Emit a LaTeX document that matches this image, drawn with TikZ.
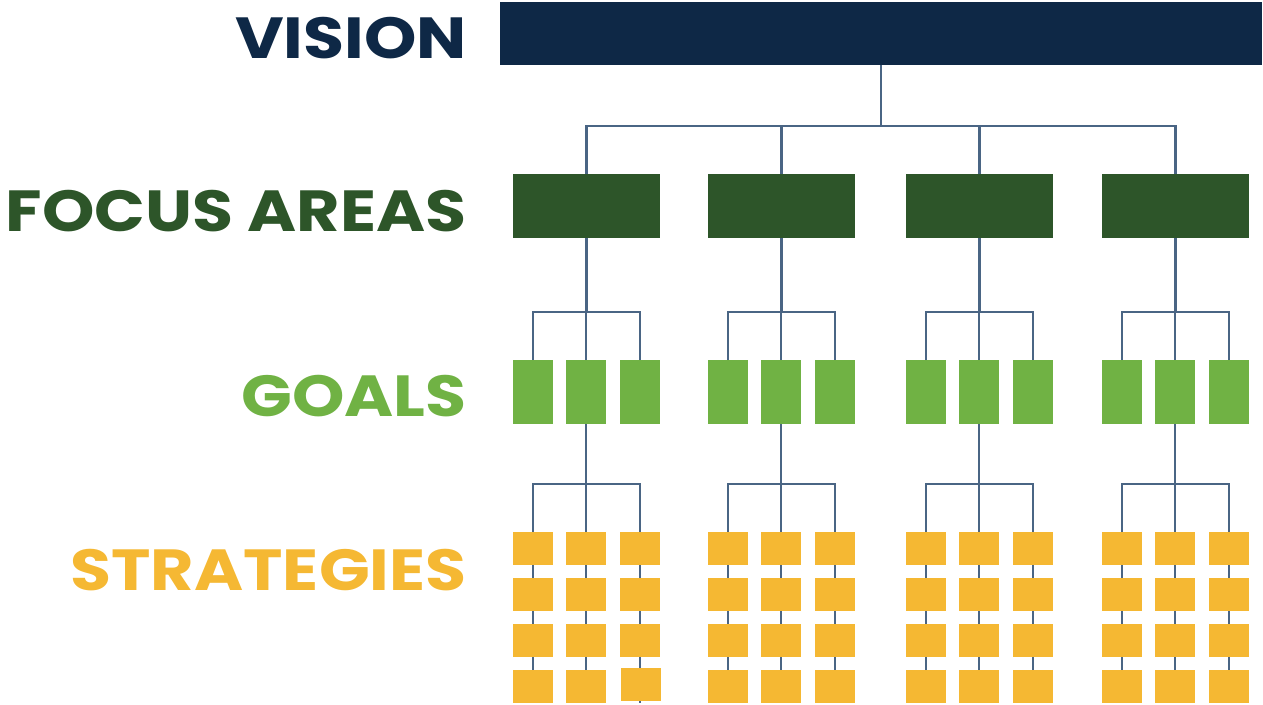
\documentclass[tikz,border=0pt]{standalone}
\usepackage{fontspec}
\newfontfamily\tierfont{Poppins}
\usetikzlibrary{backgrounds}
\definecolor{visionNavy}{RGB}{14,40,70}
\definecolor{focusGreen}{RGB}{45,85,41}
\definecolor{goalGreen}{RGB}{112,178,68}
\definecolor{strategyYellow}{RGB}{245,184,51}
\definecolor{linkSlate}{RGB}{74,101,132}

\tikzset{
  box/.style={draw=none, inner sep=0pt, outer sep=0pt},
  focusbox/.style={box, fill=focusGreen, minimum width=2.94cm, minimum height=1.28cm},
  goalbox/.style={box, fill=goalGreen, minimum width=0.8cm, minimum height=1.28cm},
  stratbox/.style={box, fill=strategyYellow, minimum width=0.8cm, minimum height=0.66cm},
  tier/.style={font=\tierfont\bfseries\fontsize{33}{33}\selectfont, anchor=base east, inner sep=0pt, xscale=1.15},
  link/.style={draw=linkSlate, line width=0.058cm}
}

\begin{document}
\begin{tikzpicture}[x=0.02cm, y=-0.02cm]
  \useasboundingbox (0,0) rectangle (1263,704);

  % tier labels
  \node[tier, text=visionNavy] (lvision) at (467,58) {VISION};
  \node[tier, text=focusGreen] (lfocus) at (467,231) {FOCUS AREAS};
  \node[tier, text=goalGreen] (lgoals) at (467,416) {GOALS};
  \node[tier, text=strategyYellow] (lstrat) at (467,590) {STRATEGIES};

  % boxes
  \node[box, fill=visionNavy, minimum width=15.24cm, minimum height=1.26cm] (vision) at (881,33.5) {};
  \foreach \i/\x in {1/513, 2/708, 3/906, 4/1102} {
    \node[focusbox] (f\i) at (\x+73.5,206) {};
    \foreach \j/\dx in {1/20, 2/73, 3/127} {
      \node[goalbox] (g\i\j) at (\x+\dx,392) {};
      \foreach \k/\y in {1/548.5, 2/594.5, 3/640.5}
        \node[stratbox] (s\i\j\k) at (\x+\dx,\y) {};
    }
  }
  % bottom row (one box sits a little off)
  \foreach \i/\x in {2/708, 3/906, 4/1102}
    \foreach \j/\dx in {1/20, 2/73, 3/127}
      \node[stratbox] (s\i\j4) at (\x+\dx,686.5) {};
  \node[stratbox] (s114) at (533,686.5) {};
  \node[stratbox] (s124) at (586,686.5) {};
  \node[stratbox] (s134) at (641,684.5) {};

  % connectors
  \coordinate (vj) at (881,126);
  \coordinate (gy) at (0,312);
  \coordinate (sy) at (0,484);
  \coordinate (ey) at (0,703);
  \begin{scope}[on background layer]
    \draw[link] (vision.south) -- (vj);
    \foreach \i in {1,...,4} {
      \draw[link] (vj) -| (f\i.north);
      \draw[link] (f\i.south) -- (f\i.south |- gy) coordinate (fj\i);
      \draw[link] (g\i2.south) -- (g\i2.south |- sy) coordinate (gj\i);
      \foreach \j in {1,2,3} {
        \draw[link] (fj\i) -| (g\i\j.north);
        \draw[link] (gj\i) -| (s\i\j1.north);
        \draw[link] (s\i\j1) -- (s\i\j1 |- ey);
      }
    }
  \end{scope}
\end{tikzpicture}
\end{document}
